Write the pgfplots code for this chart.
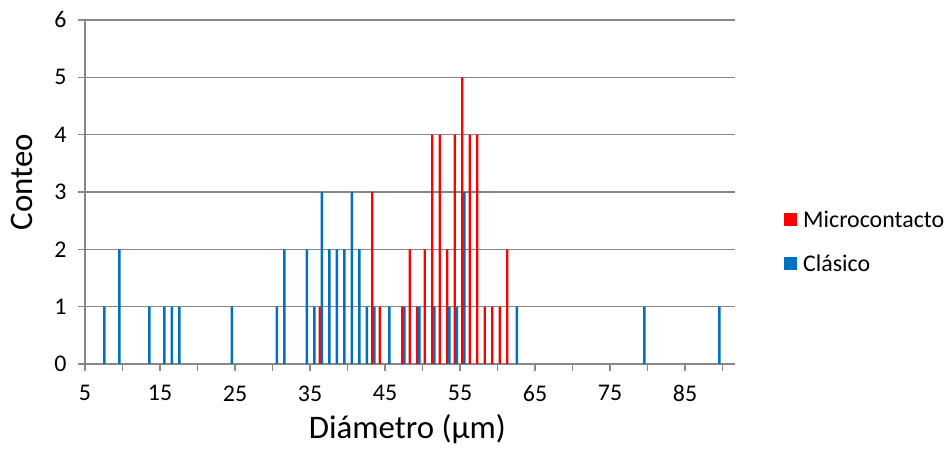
\documentclass[border=0pt]{standalone}
\usepackage{fontspec}
\setmainfont{Carlito}
\usepackage{pgfplots}
\pgfplotsset{compat=1.18}
\definecolor{serRed}{HTML}{FF0000}
\definecolor{serBlue}{HTML}{0070C0}
\definecolor{gridgray}{HTML}{878787}

\begin{document}
\begin{tikzpicture}[x=1bp,y=1bp]
\useasboundingbox (0,0) rectangle (950,454);
\begin{axis}[
    at={(85bp,90bp)}, anchor=south west,
    scale only axis, width=650bp, height=344bp,
    xmin=5, xmax=91.6667, ymin=0, ymax=6,
    axis x line*=bottom, axis y line*=left,
    axis line style={gridgray, line width=1.3bp},
    xtick={5,15,...,85}, minor xtick={10,20,...,90},
    ytick={0,1,...,6},
    tick align=outside, major tick length=7bp, minor tick length=7bp,
    tick style={gridgray, line width=1.3bp},
    ymajorgrids, grid style={gridgray, line width=1.3bp},
    /pgf/number format/assume math mode=true,
    tick label style={font=\fontsize{24}{28}\selectfont, text=black},
    xticklabel style={yshift=-11bp},
    yticklabel style={xshift=-8bp},
    xlabel={Diámetro (µm)}, ylabel={Conteo},
    label style={font=\fontsize{33}{38}\selectfont, inner sep=0pt},
    xlabel style={at={(axis description cs:0.496,-0.216)}, anchor=base},
    ylabel style={at={(axis description cs:-0.0969,0.528)}, anchor=center},
    legend style={draw=none, fill=none, at={(axis description cs:1.0754,0.3547)},
      anchor=west, inner sep=0pt, row sep=26bp, column sep=6bp,
      font=\fontsize{24}{28}\selectfont, nodes={inner sep=0pt}},
    legend cell align=left,
  ]
  \addplot[ybar, bar width=2.3bp, bar shift=2.2bp, fill=serRed, draw=none,
    legend image code/.code={\fill[serRed] (0bp,-6.5bp) rectangle (13bp,6.5bp);}]
    coordinates {(36,1) (43,3) (44,1) (47,1) (48,2) (49,1) (50,2) (51,4) (52,4)
      (53,2) (54,4) (55,5) (56,4) (57,4) (58,1) (59,1) (60,1) (61,2)};
  \addlegendentry{Microcontacto}
  \addplot[ybar, bar width=2.3bp, bar shift=4.35bp, fill=serBlue, draw=none,
    legend image code/.code={\fill[serBlue] (0bp,-6.5bp) rectangle (13bp,6.5bp);}]
    coordinates {(7,1) (9,2) (13,1) (15,1) (16,1) (17,1) (24,1) (30,1) (31,2)
      (34,2) (35,1) (36,3) (37,2) (38,2) (39,2) (40,3) (41,2) (42,1) (43,1)
      (45,1) (47,1) (49,1) (51,1) (53,1) (54,1) (55,3) (62,1) (79,1) (89,1)};
  \addlegendentry{Clásico}
\end{axis}
\end{tikzpicture}
\end{document}
